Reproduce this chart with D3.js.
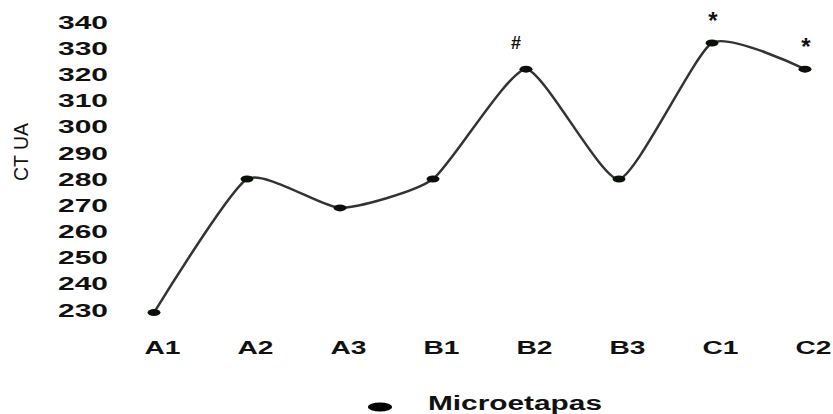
<!DOCTYPE html>
<html>
<head>
<meta charset="utf-8">
<script src="https://cdn.jsdelivr.net/npm/d3@7"></script>
<style>
  body { margin: 0; background: #fff; }
  svg { display: block; font-family: "Liberation Sans", Arial, sans-serif; }
</style>
</head>
<body>
<div id="chart"></div>
<script>
const categories = ["A1", "A2", "A3", "B1", "B2", "B3", "C1", "C2"];
const values = [229, 280, 269, 280, 322, 280, 332, 322];
const yTicks = [230, 240, 250, 260, 270, 280, 290, 300, 310, 320, 330, 340];
const marks = [
  { cat: "B2", sign: "#" },
  { cat: "C1", sign: "*" },
  { cat: "C2", sign: "*" },
];
const seriesName = "Microetapas";
const yTitle = "CT UA";

const width = 833;
const height = 414;

const x = d3.scalePoint().domain(categories).range([154, 805]);
const y = d3.scaleLinear().domain([230, 340]).range([310, 22]);

const svg = d3
  .select("#chart")
  .append("svg")
  .attr("width", width)
  .attr("height", height);

// y tick labels, wide bold digits
const yAxisG = svg
  .append("g")
  .attr("transform", "translate(108,0)")
  .call(d3.axisLeft(y).tickValues(yTicks).tickSize(0).tickPadding(0));
yAxisG.select(".domain").remove();
yAxisG
  .selectAll("text")
  .attr("font-size", 19)
  .attr("font-weight", "bold")
  .attr("font-family", "Liberation Sans, Arial, sans-serif")
  .attr("fill", "#111")
  .attr("textLength", 50)
  .attr("lengthAdjust", "spacingAndGlyphs");

// x tick labels
const xAxisG = svg
  .append("g")
  .attr("transform", "translate(8,341)")
  .call(d3.axisBottom(x).tickSize(0).tickPadding(0));
xAxisG.select(".domain").remove();
xAxisG
  .selectAll("text")
  .attr("font-size", 18)
  .attr("font-weight", "bold")
  .attr("font-family", "Liberation Sans, Arial, sans-serif")
  .attr("fill", "#111")
  .attr("textLength", 36)
  .attr("lengthAdjust", "spacingAndGlyphs");

// y title
svg
  .append("text")
  .attr("transform", "translate(28,152)rotate(-90)")
  .attr("text-anchor", "middle")
  .attr("font-size", 21)
  .attr("fill", "#111")
  .attr("textLength", 58)
  .attr("lengthAdjust", "spacingAndGlyphs")
  .text(yTitle);

const data = categories.map((c, i) => ({ cat: c, value: values[i] }));

const line = d3
  .line()
  .x((d) => x(d.cat))
  .y((d) => y(d.value))
  .curve(d3.curveCardinal.tension(0.45));

svg
  .append("path")
  .datum(data)
  .attr("fill", "none")
  .attr("stroke", "#333")
  .attr("stroke-width", 2.5)
  .attr("d", line);

svg
  .append("g")
  .selectAll("ellipse")
  .data(data)
  .join("ellipse")
  .attr("cx", (d) => x(d.cat))
  .attr("cy", (d) => y(d.value))
  .attr("rx", 6.5)
  .attr("ry", 3.5)
  .attr("fill", "#0a0f0a");

// significance marks
svg
  .append("g")
  .selectAll("text")
  .data(marks)
  .join("text")
  .attr("x", (d) => x(d.cat) + (d.sign === "#" ? -10 : 1))
  .attr("y", (d) => y(values[categories.indexOf(d.cat)]) - (d.sign === "#" ? 20 : 14))
  .attr("text-anchor", "middle")
  .attr("font-size", (d) => (d.sign === "#" ? 18 : 24))
  .attr("font-weight", "bold")
  .attr("fill", "#111")
  .text((d) => d.sign);

// legend
const legend = svg.append("g").attr("transform", "translate(380,407)");
legend
  .append("ellipse")
  .attr("rx", 12)
  .attr("ry", 4.5)
  .attr("fill", "#000");
legend
  .append("text")
  .attr("x", 48)
  .attr("y", 3)
  .attr("font-size", 20)
  .attr("font-weight", "bold")
  .attr("fill", "#111")
  .attr("textLength", 174)
  .attr("lengthAdjust", "spacingAndGlyphs")
  .text(seriesName);
</script>
</body>
</html>
